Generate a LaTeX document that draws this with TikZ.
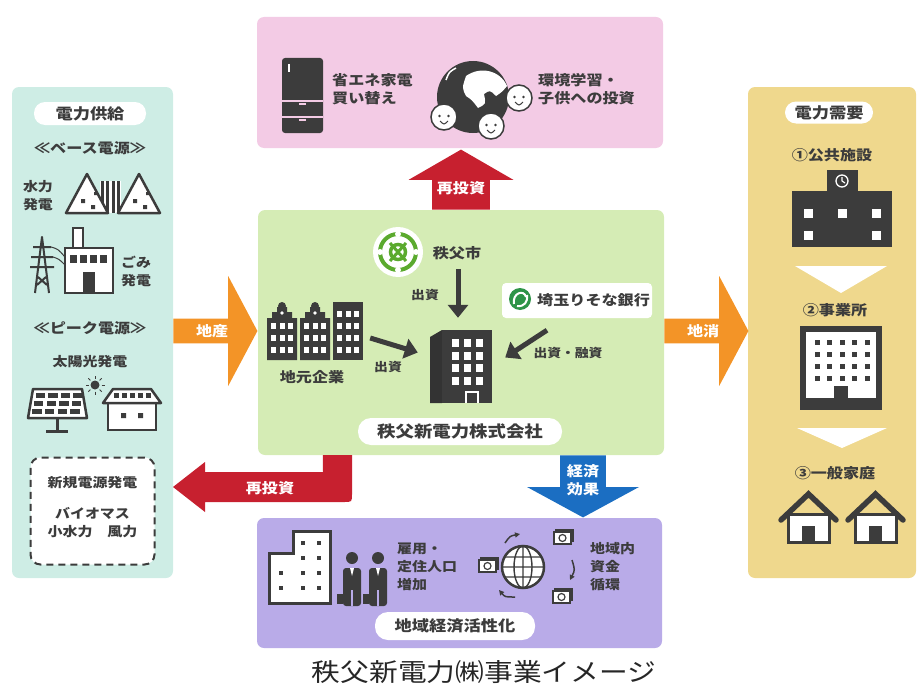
\documentclass[tikz,border=0pt]{standalone}
\usepackage{fontspec}
\newfontfamily\jp{Noto Sans CJK JP}[FakeStretch=1.15]
\usepackage{tikz}
\usetikzlibrary{calc,positioning,shapes.arrows,arrows.meta}

\definecolor{ink}{HTML}{3C3C3C}
\definecolor{mint}{HTML}{CEEDE5}
\definecolor{blush}{HTML}{F3CBE5}
\definecolor{leaf}{HTML}{D5ECB5}
\definecolor{sand}{HTML}{EFD88D}
\definecolor{lilac}{HTML}{B9ABE8}
\definecolor{flow}{HTML}{F39427}
\definecolor{back}{HTML}{C7202F}
\definecolor{gain}{HTML}{1B6EC2}
\definecolor{cityGreen}{HTML}{5BAA2E}
\definecolor{bankGreen}{HTML}{2E9448}

\begin{document}
\begin{tikzpicture}[x=1pt,y=-1pt,
    every node/.style={text=ink,inner sep=0pt},
    lbl/.style={font=\jp\bfseries\fontsize{#1}{18}\selectfont},
    panel/.style={rounded corners=7},
    pill/.style={fill=white,rounded corners=11},
    feed/.style={draw=ink,line width=5,-{Triangle[length=13pt,width=20pt]}},
    bigarrow/.style={single arrow,text=white,anchor=tail}]

    \useasboundingbox (0,0) rectangle (921,693);

    % panels
    \node[panel,fill=mint,minimum width=161,minimum height=491] (pSupply) at (92.5,332.5) {};
    \node[panel,fill=blush,minimum width=406,minimum height=131] (pReinvest) at (460,82.5) {};
    \node[panel,fill=leaf,minimum width=406,minimum height=245] (pCenter) at (461,332.5) {};
    \node[panel,fill=lilac,minimum width=405,minimum height=130] (pRegion) at (459.5,583) {};
    \node[panel,fill=sand,minimum width=168,minimum height=491] (pDemand) at (832,332.5) {};

    % --- supply side ---
    \node[pill,lbl=15,minimum width=112,minimum height=23] (hSupply) at (90,113.5) {電力供給};
    \node[lbl=14] (base) at (90,148) {≪ベース電源≫};
    \node[lbl=13,align=center] (hydro) at (38,196) {水力\\発電};
    % dam between two hills
    \fill[white] (100,181) rectangle (121,213);
    \foreach \x in {102,107.5,113,118.5} \draw[ink,line width=3] (\x,181) -- (\x,213);
    \foreach \x in {66,118}{
        \draw[ink,line width=2.5,fill=white,line join=round] (\x,213) -- (\x+21,174) -- (\x+42,213) -- cycle;
        \fill[ink] (\x+15,199) rectangle ++(4,4) (\x+25,205) rectangle ++(4,4) (\x+28,192) rectangle ++(3,3);
    }
    % pylon and plant
    \draw[ink,line width=2,line join=round] (35,293) -- (42,237) -- (49,293)
        (33,247) -- (51,247) (31,257) -- (53,257) (30,267) -- (54,267)
        (38,277) -- (47,285) (46,277) -- (37,285);
    \draw[ink,line width=1] (51,247) .. controls (58,249) .. (65,257) (53,257) .. controls (59,259) .. (65,265);
    \draw[ink,line width=2.5,fill=white] (73,228) rectangle (83,248);
    \draw[ink,line width=2.5,fill=white] (65,248) rectangle (113,293);
    \foreach \x in {70,80,90,100} \fill[ink] (\x,255) rectangle ++(7,8);
    \fill[ink] (83,272) rectangle (95,293);
    \node[lbl=13,align=center] (waste) at (136,271) {ごみ\\発電};

    \node[lbl=14] (peak) at (90,328) {≪ピーク電源≫};
    \node[lbl=13] (solar) at (90,362) {太陽光発電};
    % sun, panel, house
    \fill[ink] (95,385) circle (4.5);
    \foreach \a in {0,45,...,315} \draw[ink,line width=0.8] (95,385) ++(\a:6.5) -- ++(\a:3);
    \draw[ink,line width=2.5,fill=white,line join=round] (33,389) -- (82,389) -- (87,418) -- (28,418) -- cycle;
    \foreach \r in {0,1,2} \foreach \c in {0,1,2,3}
        \fill[ink] (35.5-1.6*\r+12.6*\c,393+8*\r) rectangle ++(9.5,5);
    \draw[ink,line width=3] (57,418) -- (57,430) (46,431) -- (68,431);
    \draw[ink,line width=2.5,fill=white] (108,402) rectangle (156,430);
    \draw[ink,line width=2.5,fill=white,line join=round] (103,403) -- (113,389) -- (151,389) -- (161,403) -- cycle;
    \foreach \x in {116,124,132,140,148} \fill[ink] (\x-2.5,393) rectangle ++(5,5);
    \fill[ink] (121,413) rectangle ++(5,5) (138,413) rectangle ++(5,5);

    \node[draw=ink,dash pattern=on 7pt off 5pt,line width=2,rounded corners=10,fill=white,
        minimum width=124,minimum height=107] (newSrc) at (92.5,511) {};
    \node[lbl=13] (newGen) at (92.5,483) {新規電源発電};
    \node[lbl=13,align=center] (biomass) at (92.5,523) {バイオマス\\小水力　風力};

    % --- reinvestment ---
    \fill[ink,rounded corners=3] (282,58) rectangle (323,133);
    \draw[blush,line width=1.5] (282,101) -- (323,101) (282,117) -- (323,117)
        (299,104) -- (306,104) (299,120) -- (306,120);
    \draw[white,line width=1.5] (289,64) -- (289,72);
    \node[lbl=14,align=left,anchor=west] (saving) at (332,89) {省エネ家電\\買い替え};

    \fill[ink] (473,97) circle (36);
    \fill[white] (466,76) .. controls (480,66) and (500,70) .. (507,86) .. controls (502,92) .. (496,96)
        .. controls (490,90) .. (484,94) .. controls (486,104) .. (478,108)
        .. controls (472,100) .. (466,96) .. controls (462,88) .. (466,76) -- cycle;
    \draw[white,line width=1.5] (446,80) .. controls (449,72) .. (456,68);
    \foreach \fx/\fy in {444/117,491/126,519/98}{
        \draw[ink,line width=1.5,fill=white] (\fx,\fy) circle (13);
        \fill[ink] (\fx-4.5,\fy-1) circle (1.4) (\fx+4.5,\fy-1) circle (1.4);
        \draw[ink,line width=1] (\fx-4,\fy+4) .. controls (\fx,\fy+8) .. (\fx+4,\fy+4);
    }
    \node[lbl=14,align=left,anchor=west] (learning) at (538,89) {環境学習・\\子供への投資};

    % --- the company ---
    \fill[white] (398,252) circle (25);
    \draw[cityGreen,line width=4] (398,252) circle (18);
    \foreach \a in {0,90,180,270} \fill[white] (398,252) ++(\a:18) circle (3);
    \draw[cityGreen,line width=3.5] (398,252) circle (7.5);
    \draw[cityGreen,line width=3] (390,243) -- (406,261) (406,243) -- (390,261);
    \node[lbl=14] (city) at (457,253) {秩父市};

    \node[fill=white,rounded corners=4,minimum width=150,minimum height=35] (bankBox) at (577,300.5) {};
    \fill[bankGreen] (520,299) circle (11);
    \draw[white,line width=2] (514,304) .. controls (512,293) and (524,289) .. (526,297)
        (517,306) .. controls (524,307) and (528,302) .. (527,295);
    \node[lbl=14,anchor=west] (bank) at (537,300) {埼玉りそな銀行};

    \node[minimum width=96,minimum height=60] (firms) at (315,330) {};
    \foreach \x in {267,300}{
        \fill[ink] (\x,360) -- (\x,318) -- (\x+5,318) -- (\x+5,312) -- (\x+10,312) -- (\x+10,307)
            -- (\x+20,307) -- (\x+20,312) -- (\x+25,312) -- (\x+25,318) -- (\x+30,318) -- (\x+30,360) -- cycle;
        \fill[ink] (\x+15,306) circle (4);
        \fill[white] (\x+15,313) circle (1.8);
        \foreach \c in {0,1,2} \foreach \r in {0,1,2} \fill[white] (\x+4+\c*8.5,323+\r*12) rectangle ++(5,6);
    }
    \fill[ink] (333,302) rectangle (363,360);
    \foreach \c in {0,1,2} \foreach \r in {0,1,2,3} \fill[white] (337+\c*8.5,311+\r*12) rectangle ++(5,6);
    \node[lbl=14] (firmsLbl) at (312,377) {地元企業};

    \node[minimum width=62,minimum height=73] (company) at (461,366.5) {};
    \fill[black!80] (430,337) -- (442,330) -- (442,403) -- (430,403) -- cycle;
    \fill[ink] (442,330) rectangle (492,403);
    \foreach \c in {0,1,2} \foreach \r in {0,1,2,3} \fill[white] (452+\c*12,339+\r*12.5) rectangle ++(7,8);
    \draw[white,line width=1.2] (466,403) -- (466,392) -- (478,392) -- (478,403);

    \draw[feed] ($(city.south)+(1,9)$) -- ($(company.north)+(-3,-12)$);
    \draw[feed] ($(firms.east)+(7,8)$) -- ($(company.west)+(-12,-14)$);
    \draw[feed] ($(bankBox.south)+(-30,12)$) -- ($(company.east)+(13,-9)$);
    \node[lbl=12] (fundCity) at (425,295) {出資};
    \node[lbl=12] (fundFirms) at (388,367) {出資};
    \node[lbl=12] (fundBank) at (568,353) {出資・融資};

    \node[pill,lbl=16,minimum width=204,minimum height=27,rounded corners=13] (companyName) at (460,431.5) {秩父新電力株式会社};

    % --- flows between panels ---
    \node[bigarrow,fill=flow,lbl=14,minimum height=84,minimum width=110,
        single arrow head extend=23.5,single arrow tip angle=124] (aProd) at (pSupply.east |- 0,331) {地産};
    \node[bigarrow,fill=flow,lbl=14,minimum height=84,minimum width=110,
        single arrow head extend=23.5,single arrow tip angle=124] (aCons) at (pCenter.east |- 0,331) {地消};
    \node[bigarrow,fill=back,lbl=14,shape border rotate=90,minimum height=60,minimum width=105,
        single arrow head extend=20,single arrow tip angle=120] (aUp) at (pCenter.north) {再投資};
    \node[bigarrow,fill=gain,lbl=14,align=center,shape border rotate=270,minimum height=62,minimum width=112,
        single arrow head extend=23.5,single arrow tip angle=123] (aDown) at ($(pCenter.south)+(122,0)$) {経済\\効果};

    % reinvestment back to new sources
    \fill[back] ($(pCenter.south west)+(65,0)$) -- (352,455) -- (352,494) .. controls (352,502) .. (344,502)
        -- (205,502) -- (205,512) -- (173,487) -- (205,462) -- (205,472) -- (323,472) -- cycle;
    \node[lbl=14,text=white] (reinvestL) at (270,488) {再投資};

    % --- demand side ---
    \node[pill,lbl=15,minimum width=88,minimum height=22] (hDemand) at (829,112.5) {電力需要};
    \node[lbl=14] (public) at (832,155) {①公共施設};
    \fill[ink] (827,170) rectangle (858,193);
    \fill[ink] (792,191) rectangle (892,247);
    \draw[white,line width=1.3] (842,181) circle (6);
    \draw[white,line width=1.2] (842,181) -- (842,177) (842,181) -- (845,183);
    \foreach \x/\y in {808/213,842/213,876/213,808/235,876/235} \fill[white] (\x-4.5,\y-4.5) rectangle ++(9,9);
    \fill[white] (795,266) -- (887,266) -- (841,293) -- cycle;

    \node[lbl=14] (office) at (835,310) {②事業所};
    \fill[ink] (800,326) rectangle (882,410);
    \fill[white] (806,332) rectangle (876,398);
    \foreach \c in {0,...,4} \foreach \r in {0,...,3} \fill[ink] (814.5+\c*12.5,339.5+\r*12) rectangle ++(5,5);
    \fill[ink] (834,386) rectangle (848,398);
    \fill[white] (797,428) -- (887,428) -- (842,448) -- cycle;

    \node[lbl=14] (homes) at (835,473) {③一般家庭};
    \foreach \s in {0,67}{
        \draw[ink,line width=3,fill=white] (788+\s,514) rectangle (829+\s,542);
        \draw[ink,line width=5.5,line cap=round] (781+\s,520) -- (808.5+\s,494) -- (836+\s,520);
        \fill[ink] (802+\s,526) rectangle (815+\s,542);
    }

    % --- regional economy ---
    \draw[ink,line width=3,fill=white] (269,603) -- (269,553) -- (293,553) -- (293,531) -- (330,531) -- (330,603) -- cycle;
    \foreach \x in {301,317} \foreach \y in {541,556,571,586} \fill[ink] (\x,\y) rectangle ++(4,4);
    \foreach \y in {571,586} \fill[ink] (279,\y) rectangle ++(4,4);
    \foreach \x in {352,378}{
        \fill[ink] (\x,558) circle (6);
        \fill[ink,rounded corners=3] (\x-9,606) -- (\x-9,568) -- (\x+9,568) -- (\x+9,606) -- cycle;
        \draw[lilac,line width=1.2] (\x,590) -- (\x,606);
        \fill[white] (\x-2,568) -- (\x+2,568) -- (\x,576) -- cycle;
        \fill[ink] (\x-15,594) rectangle (\x-9,604);
    }
    \node[lbl=13,align=left,anchor=west] (jobs) at (397,567) {雇用・\\定住人口\\増加};

    \draw[ink,line width=2.5,fill=white] (523,567) circle (21);
    \draw[ink,line width=1.4] (523,567) ellipse (9 and 21) (502,567) -- (544,567) (523,546) -- (523,588)
        (505,557) -- (541,557) (505,577) -- (541,577);
    \draw[ink,line width=1.5,-{Triangle[length=5pt,width=5pt]}] (505,543) .. controls (510,536) .. (520,534);
    \draw[ink,line width=1.5,-{Triangle[length=5pt,width=5pt]}] (572,560) .. controls (575,570) .. (570,580);
    \draw[ink,line width=1.5,-{Triangle[length=5pt,width=5pt]}] (515,597) .. controls (505,597) .. (499,590);
    \foreach \bx/\by in {488/566,563/538,562/597}{
        \draw[ink,line width=1.2,fill=white] (\bx-7,\by-8) rectangle (\bx+10,\by+3);
        \draw[ink,line width=1.3,fill=white] (\bx-9,\by-6) rectangle (\bx+8,\by+6);
        \draw[ink,line width=1.2] (\bx-0.5,\by) circle (3.5);
    }
    \node[lbl=13,align=left,anchor=west] (cycle) at (590,567) {地域内\\資金\\循環};

    \node[pill,lbl=15,minimum width=160,minimum height=28,rounded corners=13] (regionName) at (455,626) {地域経済活性化};

    \node[font=\jp\fontsize{25}{25}\selectfont,text=black!85] (caption) at (484,672) {秩父新電力㈱事業イメージ};
\end{tikzpicture}
\end{document}
